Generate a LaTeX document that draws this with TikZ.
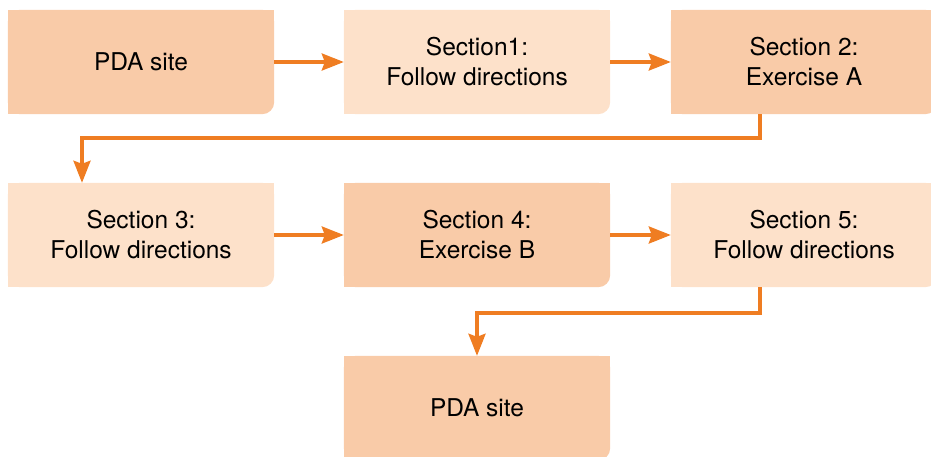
\documentclass[tikz,border=0pt]{standalone}
\usepackage{fontspec}
\setmainfont{TeX Gyre Heros}
\usetikzlibrary{arrows.meta,backgrounds}
\definecolor{boxdark}{HTML}{F9CBA8}
\definecolor{boxlight}{HTML}{FDE1CA}
\definecolor{arrowc}{HTML}{EF7D22}
\tikzset{
  stepbox/.style={rectangle, minimum width=266pt, minimum height=104pt, inner sep=0pt, align=center,
    font=\fontsize{24.5}{30}\selectfont},
  flow/.style={draw=arrowc, line width=3.5pt, -{Stealth[length=22pt,width=17pt,inset=3pt]}}
}
\newcommand{\boxfill}[2]{%
  \fill[#2,rounded corners=12pt] (#1.south west) rectangle (#1.north east);
  \fill[#2] (#1.north west) rectangle ([yshift=12pt]#1.south east);
  \fill[#2] (#1.north west) rectangle ([xshift=-12pt]#1.south east);
}
\begin{document}
\begin{tikzpicture}[x=1pt,y=-1pt]
\useasboundingbox (0,0) rectangle (931,456);
\clip (0,0) rectangle (931,456);
\node[stepbox] (b1) at (141,62) {PDA site};
\node[stepbox] (b2) at (477,62) {Section1:\\Follow directions};
\node[stepbox] (b3) at (804,62) {Section 2:\\Exercise A};
\node[stepbox] (b4) at (141,235) {Section 3:\\Follow directions};
\node[stepbox] (b5) at (477,235) {Section 4:\\Exercise B};
\node[stepbox] (b6) at (804,235) {Section 5:\\Follow directions};
\node[stepbox] (b7) at (477,408) {PDA site};
\begin{scope}[on background layer]
\boxfill{b1}{boxdark}
\boxfill{b2}{boxlight}
\boxfill{b3}{boxdark}
\boxfill{b4}{boxlight}
\boxfill{b5}{boxdark}
\boxfill{b6}{boxlight}
\boxfill{b7}{boxdark}
\end{scope}
\coordinate (k1) at (760,138);
\coordinate (k2) at (82,138);
\coordinate (k3) at (760,313);
\coordinate (k4) at (477,313);
\draw[flow] (b1.east) -- (b2.west);
\draw[flow] (b2.east) -- (b3.west);
\draw[flow] (b3.south -| k1) -- (k1) -- (k2) -- (b4.north -| k2);
\draw[flow] (b4.east) -- (b5.west);
\draw[flow] (b5.east) -- (b6.west);
\draw[flow] (b6.south -| k3) -- (k3) -- (k4) -- (b7.north);
\end{tikzpicture}
\end{document}
